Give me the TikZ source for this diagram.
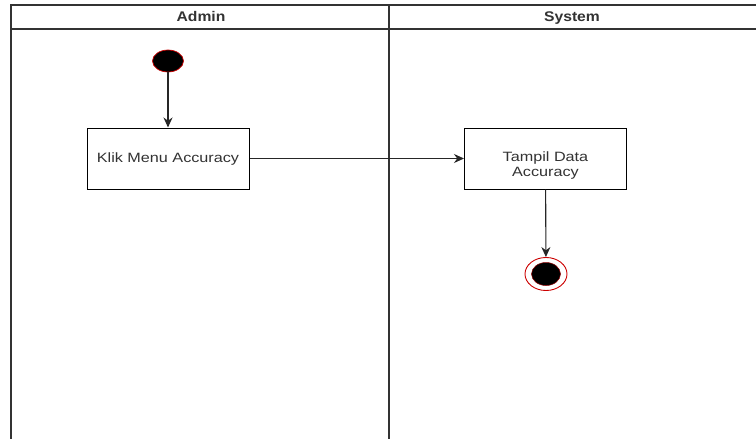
\documentclass[tikz,border=0pt]{standalone}
\usepackage{fontspec}
\setmainfont{Liberation Sans}
\newfontfamily\lanefont[FakeStretch=1.12]{Liberation Sans}
\newfontfamily\actfont[FakeStretch=1.2]{Liberation Sans}
\usetikzlibrary{shapes.geometric,arrows.meta}
\definecolor{ringred}{HTML}{CC0000}
\definecolor{textgray}{HTML}{333333}
\begin{document}
\begin{tikzpicture}[x=1pt,y=-1pt,
  lane/.style={line width=1.4pt,draw=black!80},
  lanetitle/.style={font=\lanefont\fontsize{14}{16}\selectfont\bfseries,text=textgray,
    text height=10pt,text depth=3pt},
  action/.style={draw=black,line width=1pt,fill=white,minimum width=162pt,minimum height=61pt,
    font=\actfont\fontsize{13.5}{15}\selectfont,text=textgray,align=center},
  flow/.style={line width=1.1pt,draw=black!85,-{Stealth[length=10pt,width=9pt]}},
  startdot/.style={ellipse,fill=black,draw=ringred,line width=0.7pt,minimum width=31pt,minimum height=22pt,inner sep=0pt},
  endring/.style={ellipse,draw=ringred,line width=0.9pt,fill=white,minimum width=42pt,minimum height=33pt,inner sep=0pt},
  enddot/.style={ellipse,fill=black,draw=ringred!70!black,line width=0.5pt,minimum width=29pt,minimum height=23pt,inner sep=0pt}]
\useasboundingbox (0,0) rectangle (756,439);
\fill[white] (0,0) rectangle (756,439);
% swimlane frame
\draw[lane] (756,5) -- (11,5) -- (11,439);
\draw[lane] (11,29) -- (756,29);
\draw[lane] (389,5) -- (389,439);
\node[lanetitle] (adminlane) at (201,17.5) {Admin};
\node[lanetitle] (systemlane) at (572,17.5) {System};
% activity nodes
\node[startdot] (start) at (168,61) {};
\node[action] (klik) at (168,158.5) {};
\node[font=\actfont\fontsize{13.5}{15}\selectfont,text=textgray] (kliktext) at (168,159) {Klik Menu Accuracy};
\node[action] (tampil) at (545.5,158.5) {};
\node[font=\actfont\fontsize{13.5}{15}\selectfont,text=textgray,align=center] (tampiltext) at (545.5,166) {Tampil Data\\Accuracy};
\node[endring] (finish) at (546,274) {};
\node[enddot] (finishdot) at (546,274) {};
% control flows
\draw[flow] (start) -- (klik);
\draw[flow] (klik) -- (tampil);
\draw[flow] (tampil) -- (finish);
\end{tikzpicture}
\end{document}
